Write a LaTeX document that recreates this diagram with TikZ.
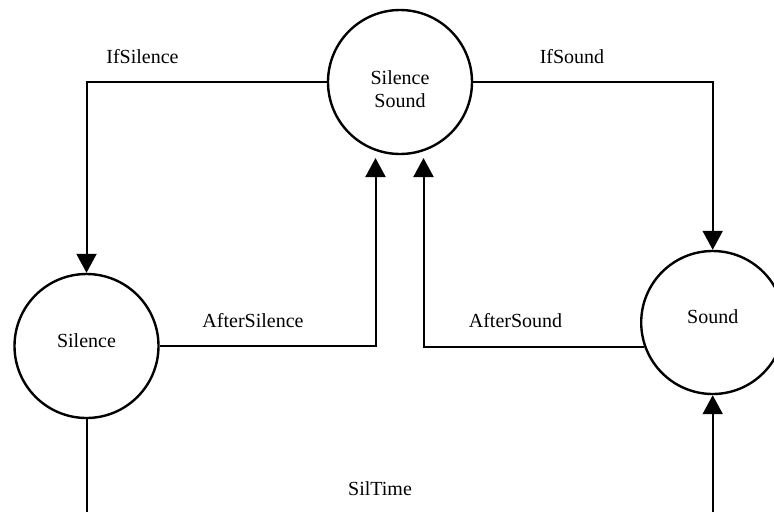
\documentclass[tikz,border=0pt]{standalone}
\usepackage{fontspec}
\setmainfont{Liberation Serif}
\usetikzlibrary{arrows.meta}
\tikzset{
  state/.style={circle, draw, line width=2.4pt, inner sep=0pt, minimum size=144pt},
  txt/.style={inner sep=0pt, anchor=base, font=\fontsize{20}{23}\selectfont},
  link/.style={line width=2pt},
  arr/.style={link, -{Triangle[length=19pt, width=20pt]}}
}
\begin{document}
\begin{tikzpicture}[x=1pt, y=-1pt]
  \path[use as bounding box, clip] (0,0) rectangle (774,512);

  % states
  \node[state] (both) at (400,82) {};
  \node[state] (sil) at (86.5,346) {};
  \node[state, minimum size=143pt] (snd) at (712.7,322.5) {};

  \node[txt] (bothA) at (400,84) {Silence};
  \node[txt] (bothB) at (400,107) {Sound};
  \node[txt] (silT) at (86.5,347) {Silence};
  \node[txt] (sndT) at (712.7,323) {Sound};

  % free ends of the transitions
  \coordinate (aSil) at (375.5,158);
  \coordinate (aSnd) at (423.5,158);
  \coordinate (silOut) at (86.5,512);
  \coordinate (sndIn) at (712.7,512);

  % transitions
  \draw[arr] (both.west) -| (sil.north);
  \draw[arr] (both.east) -| (snd.north);
  \draw[arr] (sil.east) -| (aSil);
  \draw[arr] (snd.200) -| (aSnd);
  \draw[link] (sil.south) -- (silOut);
  \draw[arr] (sndIn) -- (snd.south);

  % transition labels
  \node[txt] (lIfSil) at (142.5,63) {IfSilence};
  \node[txt] (lIfSnd) at (572,63) {IfSound};
  \node[txt] (lAftSil) at (253,327) {AfterSilence};
  \node[txt] (lAftSnd) at (515.5,327) {AfterSound};
  \node[txt] (lSilTime) at (380,495) {SilTime};
\end{tikzpicture}
\end{document}
